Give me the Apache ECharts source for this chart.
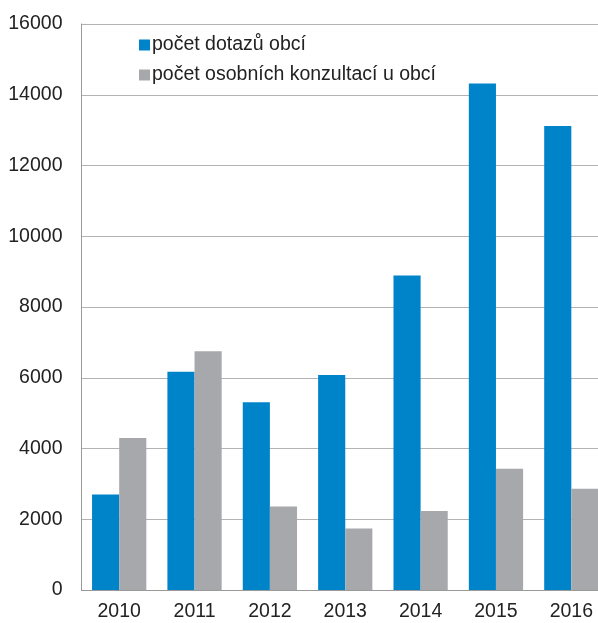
<!DOCTYPE html>
<html>
<head>
<meta charset="utf-8">
<script src="https://cdn.jsdelivr.net/npm/echarts@6/dist/echarts.min.js"></script>
<style>
  html, body { margin: 0; padding: 0; background: #fff; overflow: hidden; }
  #container { width: 609px; height: 623px; }
</style>
</head>
<body>
<div id="container"></div>
<script>
// data
var years = ['2010', '2011', '2012', '2013', '2014', '2015', '2016'];
var dotazy = [2700, 6170, 5310, 6080, 8890, 14320, 13115];
var konzultace = [4300, 6750, 2360, 1740, 2230, 3430, 2860];
var yTicks = [0, 2000, 4000, 6000, 8000, 10000, 12000, 14000, 16000];

var dom = document.getElementById('container');
var chart = echarts.init(dom);

var font = 'Liberation Sans, Arial, sans-serif';

chart.setOption({
    animation: false,
    textStyle: { fontFamily: font },
    grid: { left: 81.5, right: 0, top: 24, bottom: 33 },
    legend: {
        orient: 'vertical',
        left: 134,
        top: 30,
        itemWidth: 11,
        itemHeight: 11,
        itemGap: 10,
        icon: 'rect',
        textStyle: { fontFamily: font, fontSize: 19.5, color: '#222', padding: [0, 0, 0, -3] },
        data: ['počet dotazů obcí', 'počet osobních konzultací u obcí']
    },
    xAxis: {
        type: 'category',
        data: years,
        axisLine: { lineStyle: { color: '#9a9a9a', width: 1 } },
        axisTick: { show: false },
        axisLabel: { color: '#222', fontSize: 19.5, margin: 12 }
    },
    yAxis: {
        type: 'value',
        min: yTicks[0],
        max: yTicks[yTicks.length - 1],
        interval: 2000,
        axisLine: { show: true, lineStyle: { color: '#9a9a9a', width: 1 } },
        axisTick: { show: false },
        axisLabel: {
            color: '#222', fontSize: 19.5, margin: 19,
            formatter: function (v) { return String(v); }
        },
        splitLine: { lineStyle: { color: '#b3b3b3', width: 1.2 } }
    },
    series: [
        {
            name: 'počet dotazů obcí',
            type: 'bar',
            data: dotazy,
            barGap: '0%',
            barCategoryGap: '28%',
            itemStyle: { color: '#0084c9' }
        },
        {
            name: 'počet osobních konzultací u obcí',
            type: 'bar',
            data: konzultace,
            itemStyle: { color: '#a7a8ac' }
        }
    ]
});
</script>
</body>
</html>
